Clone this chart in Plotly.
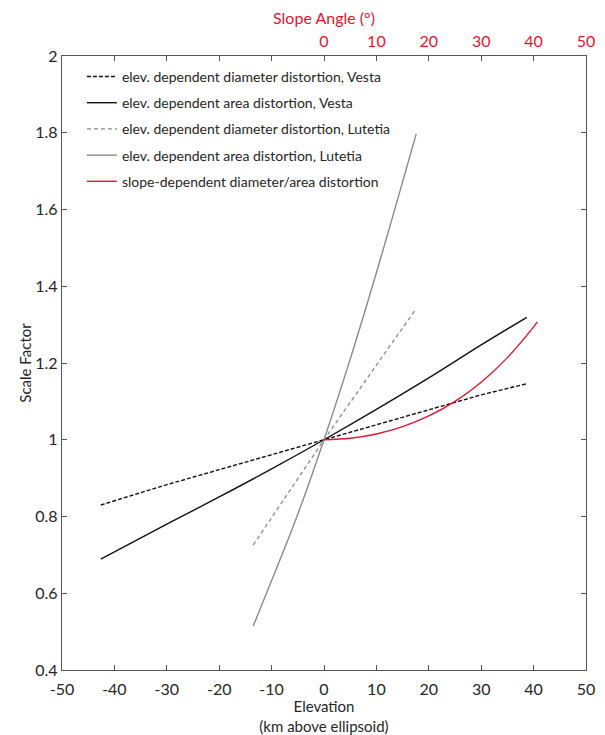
import plotly.graph_objects as go

# Elevation (km) and scale factors
vesta_elev = [-42.6, -30, -20, -10, 0, 10, 20, 30, 38.7]
vesta_diam = [0.830, 0.883, 0.922, 0.961, 1.000, 1.039, 1.078, 1.117, 1.146]
vesta_area = [0.689, 0.780, 0.851, 0.924, 1.000, 1.079, 1.161, 1.247, 1.319]

lutetia_elev_d = [-13.5, 0, 17.5]
lutetia_diam = [0.726, 1.000, 1.340]
lutetia_elev_a = [-13.5, -10, -5, 0, 5, 10, 15, 17.6]
lutetia_area = [0.515, 0.633, 0.806, 1.000, 1.210, 1.435, 1.672, 1.797]

slope_deg = [0, 5, 10, 15, 20, 25, 30, 35, 40, 40.7]
slope_sf = [1.000, 1.004, 1.015, 1.034, 1.062, 1.100, 1.150, 1.214, 1.294, 1.307]

x_ticks = [-50, -40, -30, -20, -10, 0, 10, 20, 30, 40, 50]
x_labels = ["-50", "-40", "-30", "-20", "-10", "0", "10", "20", "30", "40", "50"]
y_ticks = [0.4, 0.6, 0.8, 1.0, 1.2, 1.4, 1.6, 1.8, 2.0]
y_labels = ["0.4", "0.6", "0.8", "1", "1.2", "1.4", "1.6", "1.8", "2"]
top_ticks = [0, 10, 20, 30, 40, 50]

FONT = "Lato, 'Open Sans', sans-serif"
RED = "#e3142d"
GRAY = "#8a8a8a"
BLACK = "#111111"
TXT = "#262626"

fig = go.Figure()
fig.add_trace(go.Scatter(x=vesta_elev, y=vesta_diam, mode="lines",
                         name="elev. dependent diameter distortion, Vesta",
                         line=dict(color=BLACK, width=1.4, dash="4px,2px"),
                         legendgroup="a"))
fig.add_trace(go.Scatter(x=vesta_elev, y=vesta_area, mode="lines",
                         name="elev. dependent area distortion, Vesta",
                         line=dict(color=BLACK, width=1.4, shape="spline"),
                         legendgroup="b"))
fig.add_trace(go.Scatter(x=lutetia_elev_d, y=lutetia_diam, mode="lines",
                         name="elev. dependent diameter distortion, Lutetia",
                         line=dict(color=GRAY, width=1.3, dash="4px,3px"),
                         legendgroup="c"))
fig.add_trace(go.Scatter(x=lutetia_elev_a, y=lutetia_area, mode="lines",
                         name="elev. dependent area distortion, Lutetia",
                         line=dict(color=GRAY, width=1.4, shape="spline"),
                         legendgroup="d"))
fig.add_trace(go.Scatter(x=slope_deg, y=slope_sf, mode="lines", xaxis="x2",
                         name="slope-dependent diameter/area distortion",
                         line=dict(color=RED, width=1.4, shape="spline"),
                         legendgroup="e"))

# page body has an 8px margin, so the figure is sized to fit the window
fig.update_layout(
    width=597, height=727,
    margin=dict(l=54, r=19, t=48, b=65),
    paper_bgcolor="white", plot_bgcolor="white",
    font=dict(family=FONT, size=16, color=TXT),
    showlegend=True,
    legend=dict(x=0.038, y=0.992, xanchor="left", yanchor="top",
                bgcolor="rgba(0,0,0,0)", tracegroupgap=5,
                font=dict(family=FONT, size=14, color=TXT)),
    xaxis=dict(range=[-50, 50], tickvals=x_ticks, ticktext=x_labels,
               ticks="inside", ticklen=5, automargin=False,
               showgrid=False, zeroline=False, showline=True, linecolor="#555555",
               linewidth=1.3, mirror="ticks", tickcolor="#555555",
               tickfont=dict(size=16), ticklabelstandoff=5,
               title=dict(text="Elevation<br>(km above ellipsoid)", standoff=2,
                          font=dict(size=15))),
    xaxis2=dict(range=[-50, 50], overlaying="x", side="top", tickvals=top_ticks,
                ticks="", showgrid=False, zeroline=False, showline=False,
                automargin=False, ticklabelstandoff=5,
                tickfont=dict(color=RED, size=16),
                title=dict(text="Slope Angle (°)", font=dict(color=RED, size=16),
                           standoff=3)),
    yaxis=dict(range=[0.4, 2.0], tickvals=y_ticks, ticktext=y_labels,
               ticks="inside", ticklen=5, showgrid=False, zeroline=False,
               showline=True, linecolor="#555555", linewidth=1.3, mirror="ticks",
               tickcolor="#555555", automargin=False, tickfont=dict(size=16),
               title=dict(text="Scale Factor", standoff=0, font=dict(size=15))),
)

fig.write_html("out.html")
